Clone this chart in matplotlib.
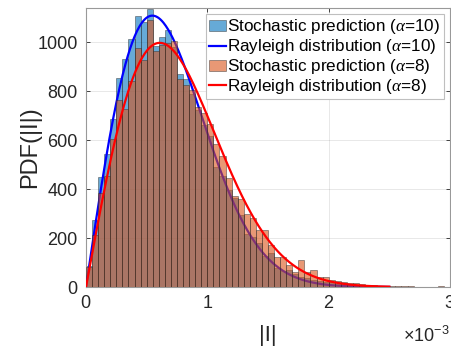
import numpy as np
import matplotlib
matplotlib.use("Agg")
import matplotlib.pyplot as plt
from matplotlib.ticker import ScalarFormatter

plt.rcParams['font.family'] = ['Liberation Sans', 'DejaVu Sans']
plt.rcParams['mathtext.fontset'] = 'custom'
plt.rcParams['mathtext.rm'] = 'Liberation Sans'
plt.rcParams['mathtext.it'] = 'Liberation Serif:italic'

# ---- data ----
bin_width = 5e-5
n_bins = 60
pdf_alpha10 = [85, 273, 448, 543, 688, 854, 931, 1012, 1106, 1083,
               1137, 985, 1022, 1049, 980, 869, 850, 790, 725, 660,
               615, 490, 455, 396, 365, 295, 215, 205, 178, 125,
               140, 78, 64, 69, 54, 41, 35, 30, 24, 22,
               20, 14, 12, 8, 7, 5, 4, 3, 2, 1,
               0, 0, 0, 0, 0, 0, 0, 0, 0, 0]
pdf_alpha8 = [80, 212, 386, 453, 604, 763, 729, 841, 978, 927,
              1092, 965, 988, 995, 1005, 849, 825, 805, 735, 710,
              665, 585, 535, 445, 372, 360, 298, 280, 233, 233,
              171, 124, 124, 90, 63, 110, 63, 69, 42, 42,
              29, 24, 20, 18, 16, 14, 10, 8, 6, 5,
              4, 4, 3, 3, 0, 0, 0, 0, 5, 0]
sigma_alpha10 = 0.547e-3
sigma_alpha8 = 0.608e-3
curve_xmax = 2.5e-3
labels = ['Stochastic prediction ($\\alpha$=10)',
          'Rayleigh distribution ($\\alpha$=10)',
          'Stochastic prediction ($\\alpha$=8)',
          'Rayleigh distribution ($\\alpha$=8)']

edges = np.arange(n_bins + 1) * bin_width
xc = np.linspace(0, curve_xmax, 400)

def rayleigh(x, s):
    return x / s**2 * np.exp(-x**2 / (2 * s**2))

fig = plt.figure(figsize=(4.52, 3.47), dpi=100)
ax = fig.add_axes([86/452, 1 - 287/347, (450-86)/452, (287-8)/347])

c_blue = (0, 0.447, 0.741)
c_orange = (0.85, 0.325, 0.098)
ec = (0.15, 0.15, 0.15, 0.5)

h1 = ax.bar(edges[:-1], pdf_alpha10, width=bin_width, align='edge',
            color=c_blue, alpha=0.6, edgecolor=ec, linewidth=0.5, zorder=2)
l1, = ax.plot(xc, rayleigh(xc, sigma_alpha10), color=(0, 0, 1), lw=1.6, zorder=3)
h2 = ax.bar(edges[:-1], pdf_alpha8, width=bin_width, align='edge',
            color=c_orange, alpha=0.6, edgecolor=ec, linewidth=0.5, zorder=4)
l2, = ax.plot(xc, rayleigh(xc, sigma_alpha8), color=(1, 0, 0), lw=1.6, zorder=5)

for b in h1:
    b.set_edgecolor(ec)
for b in h2:
    b.set_edgecolor(ec)

ax.set_xlim(0, 3e-3)
ax.set_ylim(0, 1140)
ax.set_xticks([0, 1e-3, 2e-3, 3e-3])
ax.set_yticks([0, 200, 400, 600, 800, 1000])
fmt = ScalarFormatter(useMathText=True)
fmt.set_powerlimits((-2, 2))
ax.xaxis.set_major_formatter(fmt)
ax.xaxis.OFFSETTEXTPAD = 10

ax.grid(True, color=(0.15, 0.15, 0.15), alpha=0.12, lw=0.6, zorder=0)
ax.set_axisbelow(True)
for s in ax.spines.values():
    s.set_color((0.6, 0.6, 0.6))
    s.set_linewidth(0.8)
ax.tick_params(direction='in', length=3, width=0.6, colors=(0.15, 0.15, 0.15),
               labelsize=13, top=True, right=True, pad=6)
ax.xaxis.get_offset_text().set_fontsize(13)
ax.xaxis.get_offset_text().set_color((0.15, 0.15, 0.15))

ax.set_xlabel('|I|', fontsize=16, color=(0.15, 0.15, 0.15), labelpad=9)
ax.set_ylabel('PDF(|I|)', fontsize=17, color=(0.15, 0.15, 0.15), labelpad=-3)

leg = ax.legend([h1, l1, h2, l2], labels, loc='upper right', fontsize=12.3,
                frameon=True, fancybox=False, framealpha=1,
                edgecolor=(0.75, 0.75, 0.75), handlelength=0.95,
                handleheight=0.6, handletextpad=0.1, labelspacing=0.05,
                borderpad=0.2, borderaxespad=0.35)
leg.get_frame().set_linewidth(0.8)
leg.set_zorder(10)

fig.savefig('out.png', dpi=100)
